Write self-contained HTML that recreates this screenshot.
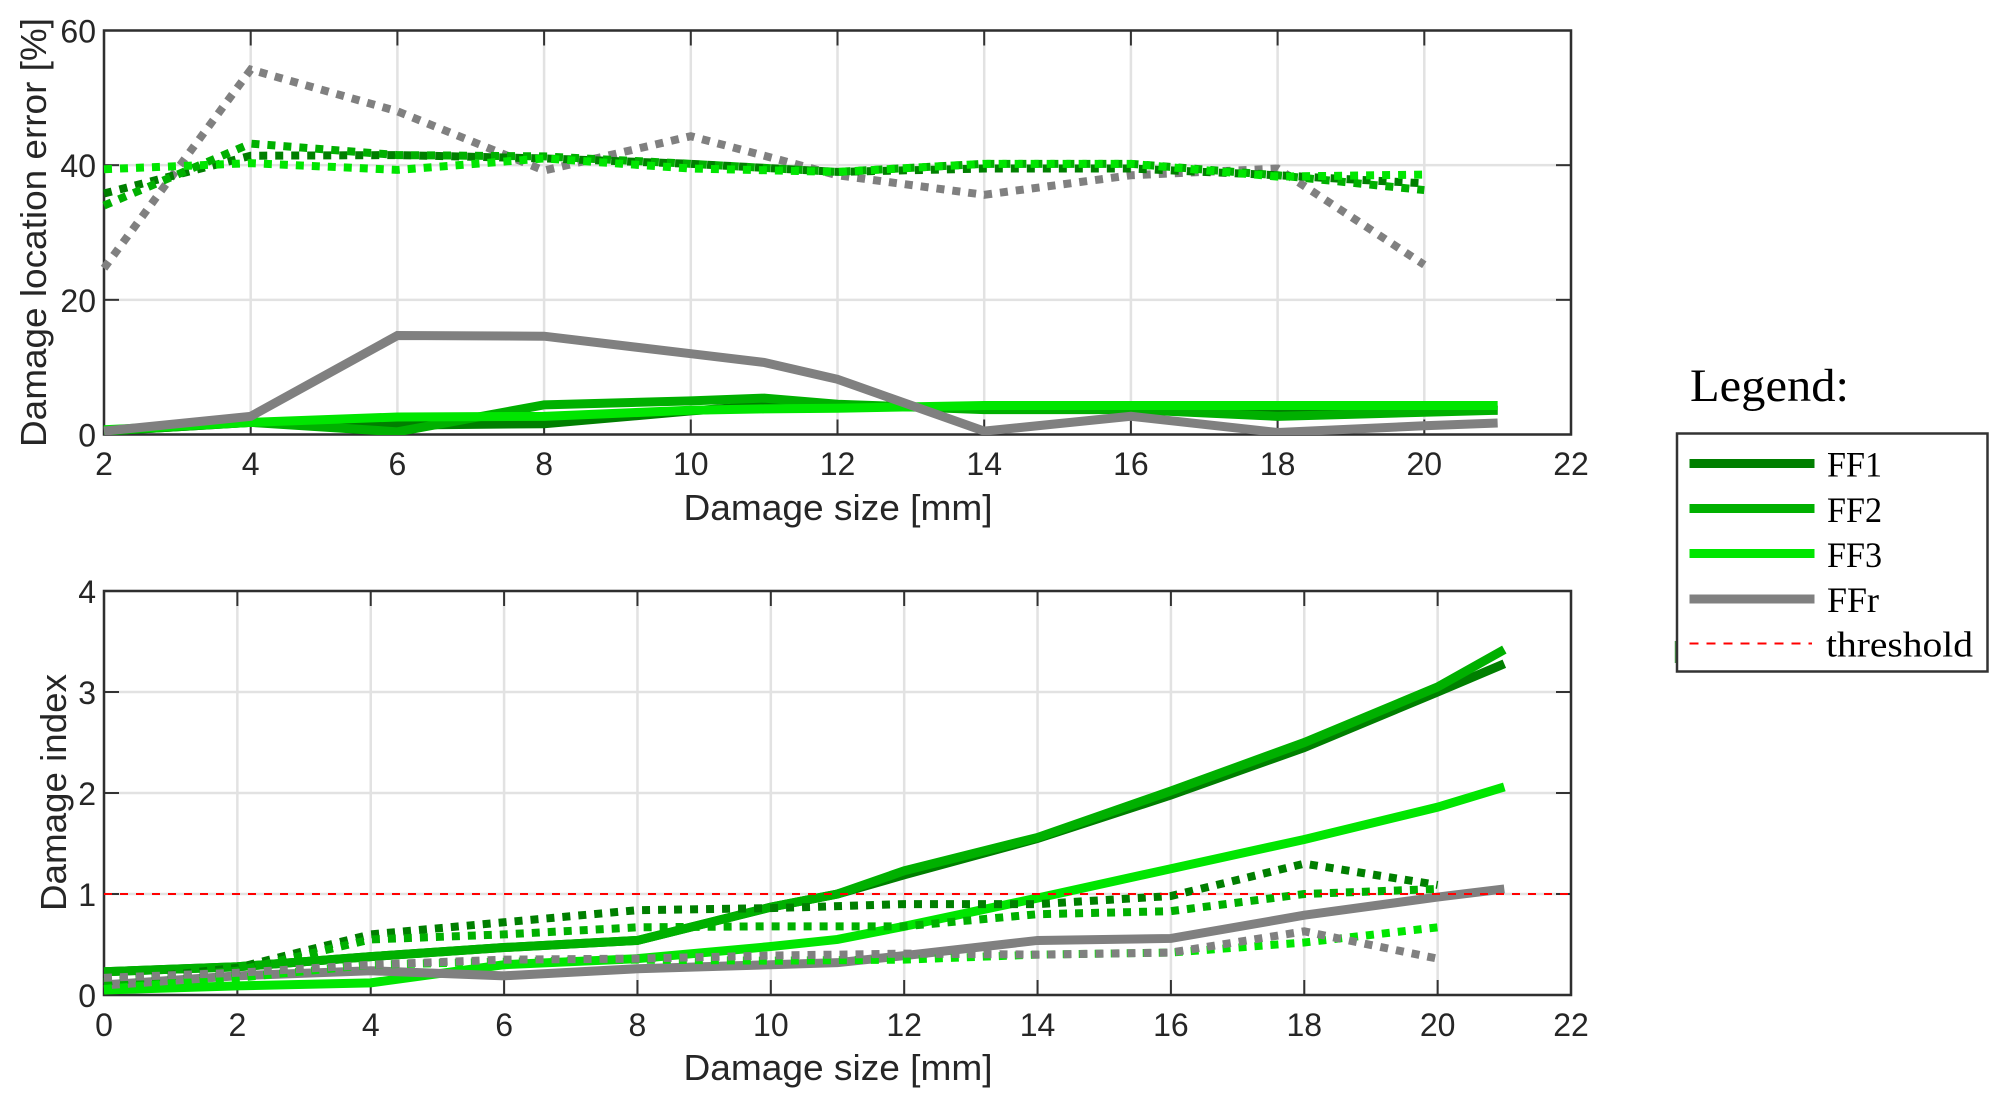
<!DOCTYPE html>
<html lang="en">
<head>
<meta charset="utf-8">
<title>Damage location error and damage index versus damage size</title>
<style>
html,body{margin:0;padding:0;background:#fff;width:2010px;height:1107px;overflow:hidden}
svg{display:block}
.tick{font-family:"Liberation Sans",Arial,sans-serif;font-size:32px;fill:#262626}
.axis-title{font-family:"Liberation Sans",Arial,sans-serif;font-size:36px;fill:#262626}
.legend-text{font-family:"Liberation Serif",serif;fill:#000}
</style>
</head>
<body>
<svg id="chart" xmlns="http://www.w3.org/2000/svg" width="2010" height="1107" viewBox="0 0 2010 1107">
  <defs>
    <clipPath id="clip-top"><rect x="100.5" y="30.5" width="1473" height="404.5"/></clipPath>
    <clipPath id="clip-bottom"><rect x="100.5" y="591" width="1473" height="405"/></clipPath>
  </defs>
  <g id="top-axes"></g>
  <g id="bottom-axes"></g>

  <text class="axis-title" x="838" y="520" text-anchor="middle" textLength="309" lengthAdjust="spacingAndGlyphs">Damage size [mm]</text>
  <text class="axis-title" transform="translate(46,232.5) rotate(-90)" text-anchor="middle" textLength="429" lengthAdjust="spacingAndGlyphs">Damage location error [%]</text>
  <text class="axis-title" x="838" y="1080" text-anchor="middle" textLength="309" lengthAdjust="spacingAndGlyphs">Damage size [mm]</text>
  <text class="axis-title" transform="translate(66,792.5) rotate(-90)" text-anchor="middle" textLength="237" lengthAdjust="spacingAndGlyphs">Damage index</text>

  <text class="legend-text" x="1690" y="401" font-size="47" textLength="159" lengthAdjust="spacingAndGlyphs">Legend:</text>
  <g>
    <line x1="1675.5" y1="641" x2="1675.5" y2="663" stroke="#4a9a4a" stroke-width="1.5"/>
    <rect x="1677" y="433.5" width="310.5" height="238" fill="#fff" stroke="#333" stroke-width="2.5"/>
    <g>
      <line x1="1689.5" y1="463.5" x2="1814.5" y2="463.5" stroke="#007f00" stroke-width="9"/>
      <text class="legend-text" x="1827" y="476.5" font-size="36" textLength="55" lengthAdjust="spacingAndGlyphs">FF1</text>
    </g>
    <g>
      <line x1="1689.5" y1="508.5" x2="1814.5" y2="508.5" stroke="#00b000" stroke-width="9"/>
      <text class="legend-text" x="1827" y="522" font-size="36" textLength="55" lengthAdjust="spacingAndGlyphs">FF2</text>
    </g>
    <g>
      <line x1="1689.5" y1="553.5" x2="1814.5" y2="553.5" stroke="#00e600" stroke-width="9"/>
      <text class="legend-text" x="1827" y="567" font-size="36" textLength="55" lengthAdjust="spacingAndGlyphs">FF3</text>
    </g>
    <g>
      <line x1="1689.5" y1="599" x2="1814.5" y2="599" stroke="#808080" stroke-width="9"/>
      <text class="legend-text" x="1827" y="612" font-size="36" textLength="52" lengthAdjust="spacingAndGlyphs">FFr</text>
    </g>
    <g>
      <line x1="1689.5" y1="643.5" x2="1812" y2="643.5" stroke="#ff0000" stroke-width="2" stroke-dasharray="9 8"/>
      <text class="legend-text" x="1826" y="656.5" font-size="36" textLength="147" lengthAdjust="spacingAndGlyphs">threshold</text>
    </g>
  </g>
</svg>
<script>
// ---- Top chart data: damage location error [%] ----
const topXTicks = [2, 4, 6, 8, 10, 12, 14, 16, 18, 20, 22];
const topYTicks = [0, 20, 40, 60];
const topSolidSizes = [2, 4, 6, 8, 10, 11, 12, 14, 16, 18, 20, 21];
const topDottedSizes = [2, 4, 6, 8, 10, 12, 14, 16, 18, 20];
const topSolidFF1 = [0.5, 1.8, 1.4, 1.6, 3.5, 4.3, 4.2, 4.0, 4.0, 3.5, 4.0, 3.6];
const topSolidFF2 = [0.5, 1.8, 0.4, 4.4, 5.0, 5.4, 4.5, 3.7, 3.7, 2.7, 3.3, 3.6];
const topSolidFF3 = [0.7, 1.8, 2.6, 2.7, 3.6, 3.8, 3.9, 4.3, 4.3, 4.3, 4.3, 4.3];
const topSolidFFr = [0.5, 2.7, 14.7, 14.6, 12.0, 10.7, 8.2, 0.5, 2.7, 0.3, 1.3, 1.7];
const topDottedFF1 = [35.8, 41.4, 41.5, 41.0, 40.2, 39.0, 39.5, 39.5, 38.5, 37.3];
const topDottedFF2 = [34.0, 43.2, 41.5, 41.3, 40.2, 39.0, 40.2, 40.2, 38.5, 36.3];
const topDottedFF3 = [39.4, 40.3, 39.3, 41.0, 39.5, 39.0, 40.2, 40.2, 38.3, 38.6];
const topDottedFFr = [24.7, 54.2, 48.0, 39.2, 44.3, 38.5, 35.6, 38.5, 39.5, 25.2];

// ---- Bottom chart data: damage index ----
const bottomXTicks = [0, 2, 4, 6, 8, 10, 12, 14, 16, 18, 20, 22];
const bottomYTicks = [0, 1, 2, 3, 4];
const bottomSolidSizes = [0, 2, 4, 6, 8, 10, 11, 12, 14, 16, 18, 20, 21];
const bottomDottedSizes = [0, 2, 4, 6, 8, 10, 12, 14, 16, 18, 20];
const bottomSolidFF1 = [0.23, 0.28, 0.38, 0.47, 0.54, 0.87, 1.0, 1.19, 1.55, 1.98, 2.45, 3.0, 3.28];
const bottomSolidFF2 = [0.23, 0.28, 0.38, 0.47, 0.54, 0.87, 1.0, 1.23, 1.56, 2.02, 2.5, 3.05, 3.42];
const bottomSolidFF3 = [0.05, 0.09, 0.12, 0.3, 0.36, 0.48, 0.55, 0.68, 0.96, 1.25, 1.54, 1.86, 2.06];
const bottomSolidFFr = [0.1, 0.19, 0.24, 0.19, 0.26, 0.3, 0.32, 0.39, 0.54, 0.56, 0.79, 0.97, 1.05];
const bottomDottedFF1 = [0.13, 0.27, 0.6, 0.72, 0.84, 0.86, 0.9, 0.9, 0.98, 1.3, 1.09];
const bottomDottedFF2 = [0.13, 0.24, 0.55, 0.6, 0.67, 0.68, 0.68, 0.8, 0.83, 1.0, 1.05];
const bottomDottedFF3 = [0.06, 0.17, 0.3, 0.33, 0.35, 0.34, 0.35, 0.4, 0.42, 0.52, 0.67];
const bottomDottedFFr = [0.17, 0.22, 0.3, 0.35, 0.36, 0.39, 0.41, 0.4, 0.42, 0.63, 0.36];
const thresholdValue = [1];

const SVG_NS = 'http://www.w3.org/2000/svg';
const colorFF1 = '#007f00';
const colorFF2 = '#00b000';
const colorFF3 = '#00e600';
const colorFFr = '#808080';

const plotLeft = 104;
const plotRight = 1571;

function linearScale(d0, d1, r0, r1) {
  return function (v) { return r0 + (v - d0) * (r1 - r0) / (d1 - d0); };
}

function addLine(parent, x1, y1, x2, y2, stroke, width, name, dash) {
  const el = document.createElementNS(SVG_NS, 'line');
  el.setAttribute('x1', x1);
  el.setAttribute('y1', y1);
  el.setAttribute('x2', x2);
  el.setAttribute('y2', y2);
  el.setAttribute('stroke', stroke);
  el.setAttribute('stroke-width', width);
  if (dash) el.setAttribute('stroke-dasharray', dash);
  
  
  parent.appendChild(el);
  return el;
}

function addTickLabel(parent, x, y, anchor, value, name) {
  const el = document.createElementNS(SVG_NS, 'text');
  el.setAttribute('x', x);
  el.setAttribute('y', y);
  el.setAttribute('text-anchor', anchor);
  el.setAttribute('class', 'tick');
  el.textContent = String(value);
  
  
  parent.appendChild(el);
}

function drawSeries(parent, xs, ys, sx, sy, color, dotted, name) {
  const el = document.createElementNS(SVG_NS, 'polyline');
  el.setAttribute('points', xs.map(function (x, i) { return sx(x).toFixed(2) + ',' + sy(ys[i]).toFixed(2); }).join(' '));
  el.setAttribute('fill', 'none');
  el.setAttribute('stroke', color);
  el.setAttribute('stroke-width', dotted ? 8 : 9);
  el.setAttribute('stroke-linejoin', 'miter');
  el.setAttribute('stroke-linecap', 'butt');
  if (dotted) el.setAttribute('stroke-dasharray', '8 8');
  
  
  parent.appendChild(el);
}

function drawGrid(parent, sx, sy, xTicks, yTicks, top, bottom, prefix) {
  xTicks.forEach(function (t) {
    addLine(parent, sx(t), top, sx(t), bottom, '#e2e2e2', 2.5, prefix + '-x-gridline');
  });
  yTicks.forEach(function (t) {
    addLine(parent, plotLeft, sy(t), plotRight, sy(t), '#e2e2e2', 2.5, prefix + '-y-gridline');
  });
}

function drawAxesOverlay(parent, sx, sy, xTicks, yTicks, top, bottom, labelBaseline, prefix) {
  xTicks.forEach(function (t) {
    addLine(parent, sx(t), bottom, sx(t), bottom - 15, '#333', 2, prefix + '-x-tick-bottom');
    addLine(parent, sx(t), top, sx(t), top + 15, '#333', 2, prefix + '-x-tick-top');
    addTickLabel(parent, sx(t), labelBaseline, 'middle', t, prefix + '-x-tick-label');
  });
  yTicks.forEach(function (t) {
    addLine(parent, plotLeft, sy(t), plotLeft + 15, sy(t), '#333', 2, prefix + '-y-tick-left');
    addLine(parent, plotRight, sy(t), plotRight - 15, sy(t), '#333', 2, prefix + '-y-tick-right');
    addTickLabel(parent, 96, sy(t) + 12, 'end', t, prefix + '-y-tick-label');
  });
  const box = document.createElementNS(SVG_NS, 'rect');
  box.setAttribute('x', plotLeft);
  box.setAttribute('y', top);
  box.setAttribute('width', plotRight - plotLeft);
  box.setAttribute('height', bottom - top);
  box.setAttribute('fill', 'none');
  box.setAttribute('stroke', '#2f2f2f');
  box.setAttribute('stroke-width', 2.5);
  
  
  parent.appendChild(box);
}

function makeClipGroup(parent, clipId, name) {
  const g = document.createElementNS(SVG_NS, 'g');
  g.setAttribute('clip-path', 'url(#' + clipId + ')');
  
  
  parent.appendChild(g);
  return g;
}

// Top chart
const topTop = 30.5, topBottom = 434.5;
const topX = linearScale(2, 22, plotLeft, plotRight);
const topY = linearScale(0, 60, topBottom, topTop);
const topAxes = document.getElementById('top-axes');
drawGrid(topAxes, topX, topY, topXTicks, topYTicks, topTop, topBottom, 'top');
drawAxesOverlay(topAxes, topX, topY, topXTicks, topYTicks, topTop, topBottom, 475, 'top');
const topMarks = makeClipGroup(topAxes, 'clip-top', 'top-series');
drawSeries(topMarks, topSolidSizes, topSolidFF1, topX, topY, colorFF1, false, 'top-solid-ff1');
drawSeries(topMarks, topSolidSizes, topSolidFF2, topX, topY, colorFF2, false, 'top-solid-ff2');
drawSeries(topMarks, topSolidSizes, topSolidFF3, topX, topY, colorFF3, false, 'top-solid-ff3');
drawSeries(topMarks, topSolidSizes, topSolidFFr, topX, topY, colorFFr, false, 'top-solid-ffr');
drawSeries(topMarks, topDottedSizes, topDottedFFr, topX, topY, colorFFr, true, 'top-dotted-ffr');
drawSeries(topMarks, topDottedSizes, topDottedFF1, topX, topY, colorFF1, true, 'top-dotted-ff1');
drawSeries(topMarks, topDottedSizes, topDottedFF2, topX, topY, colorFF2, true, 'top-dotted-ff2');
drawSeries(topMarks, topDottedSizes, topDottedFF3, topX, topY, colorFF3, true, 'top-dotted-ff3');

// Bottom chart
const bottomTop = 591, bottomBottom = 995;
const bottomX = linearScale(0, 22, plotLeft, plotRight);
const bottomY = linearScale(0, 4, bottomBottom, bottomTop);
const bottomAxes = document.getElementById('bottom-axes');
drawGrid(bottomAxes, bottomX, bottomY, bottomXTicks, bottomYTicks, bottomTop, bottomBottom, 'bottom');
drawAxesOverlay(bottomAxes, bottomX, bottomY, bottomXTicks, bottomYTicks, bottomTop, bottomBottom, 1036, 'bottom');
const bottomMarks = makeClipGroup(bottomAxes, 'clip-bottom', 'bottom-series');
drawSeries(bottomMarks, bottomSolidSizes, bottomSolidFF1, bottomX, bottomY, colorFF1, false, 'bottom-solid-ff1');
drawSeries(bottomMarks, bottomSolidSizes, bottomSolidFF2, bottomX, bottomY, colorFF2, false, 'bottom-solid-ff2');
drawSeries(bottomMarks, bottomSolidSizes, bottomSolidFF3, bottomX, bottomY, colorFF3, false, 'bottom-solid-ff3');
drawSeries(bottomMarks, bottomSolidSizes, bottomSolidFFr, bottomX, bottomY, colorFFr, false, 'bottom-solid-ffr');
drawSeries(bottomMarks, bottomDottedSizes, bottomDottedFF1, bottomX, bottomY, colorFF1, true, 'bottom-dotted-ff1');
drawSeries(bottomMarks, bottomDottedSizes, bottomDottedFF2, bottomX, bottomY, colorFF2, true, 'bottom-dotted-ff2');
drawSeries(bottomMarks, bottomDottedSizes, bottomDottedFF3, bottomX, bottomY, colorFF3, true, 'bottom-dotted-ff3');
drawSeries(bottomMarks, bottomDottedSizes, bottomDottedFFr, bottomX, bottomY, colorFFr, true, 'bottom-dotted-ffr');
addLine(bottomMarks, plotLeft, bottomY(thresholdValue[0]), plotRight, bottomY(thresholdValue[0]), '#ff0000', 2, 'threshold-line', '8 8');
</script>
</body>
</html>
